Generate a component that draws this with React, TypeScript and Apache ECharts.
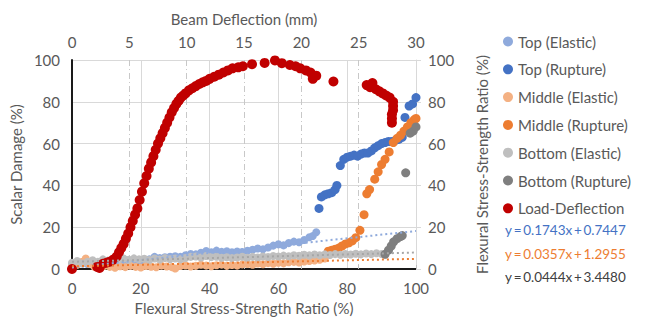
import React, { useEffect, useRef } from "react";
import * as echarts from "echarts";

// ---------- data ----------
const topElastic: number[][] = [
  [0, 2.5], [1.5, 2.2], [3, 2.8], [4.5, 2.4], [6, 3.0], [7.5, 2.6], [9, 3.1], [10.5, 2.9], [12, 3.3], [13.5, 3.0],
  [15, 3.5], [16.5, 3.2], [18, 3.8], [19.5, 3.6], [21, 4.2], [22.5, 4.6], [24, 5.8], [25.5, 5.2], [27, 5.6], [28.5, 5.9],
  [30, 6.1], [31.5, 5.8], [33, 6.6], [34.5, 7.2], [36, 7.0], [37.5, 7.8], [39, 8.6], [40.5, 8.0], [42, 8.8], [43.5, 8.2],
  [45, 8.5], [46.5, 8.0], [48, 8.4], [49.5, 8.1], [51, 8.7], [52.5, 9.2], [54, 9.8], [55.5, 9.4], [57, 10.3], [58.5, 11.2],
  [60, 11.8], [61.5, 11.3], [63, 12.4], [64.5, 13.1], [66, 12.8], [67.5, 13.9], [69, 15.2], [70, 15.8], [71, 17.6],
];
const topRupture: number[][] = [
  [71.8, 29], [72.5, 34.5], [73.5, 35.5], [74.5, 36], [75.5, 36.5], [76.5, 38], [77, 40], [78, 49.5], [79, 52.5], [80, 53.5],
  [81, 54], [82, 54.5], [83, 54], [84, 55], [85, 55.5], [86, 55.5], [87, 56.5], [88, 58], [89, 59], [90, 60],
  [91, 60.5], [92, 61], [93, 61], [94, 61.5], [95, 62], [96, 63], [96.8, 72.5], [98, 78], [99, 79], [100, 82],
];
const middleElastic: number[][] = [
  [0, 1.2], [1.5, 2.0], [3, 3.5], [4, 5.0], [5, 2.5], [6.5, 1.0], [8, 0.8], [9.5, 1.5], [11, 1.0], [12.5, 0.6],
  [14, 1.3], [15.5, 0.9], [17, 1.5], [18.5, 1.0], [20, 0.7], [21.5, 1.4], [23, 1.1], [24.5, 0.8], [26, 1.6], [27.5, 1.2],
  [29, 0.9], [30, 0.2], [31.5, 1.4], [33, 1.7], [34.5, 1.2], [36, 1.5], [37.5, 2.0], [39, 1.6], [40.5, 1.3], [42, 1.8],
  [43.5, 2.1], [45, 1.5], [46.5, 1.9], [48, 1.6], [49.5, 2.2], [51, 2.4], [52.5, 2.0], [54, 2.6], [55.5, 2.3], [57, 2.8],
  [58.5, 2.5], [60, 3.0], [61.5, 2.7], [63, 3.2], [64.5, 3.4], [66, 3.1], [67.5, 3.6], [69, 3.8], [70.5, 4.1], [72, 4.4], [73.5, 5.0],
];
const middleRupture: number[][] = [
  [74.5, 8.5], [75.5, 9], [76.5, 9.5], [77.5, 10], [78.5, 11], [79.5, 12], [80.5, 12.5], [81.5, 13.5], [82.5, 15], [83.7, 18.5],
  [84.9, 26], [85.7, 36], [86.5, 38], [88, 43], [89, 46.5], [90, 50], [91, 52.5], [92.2, 56], [93.4, 60.5], [94.5, 62.5],
  [95.5, 64], [96.5, 66], [97.5, 68], [98.5, 70], [99.5, 71.5], [100, 72],
];
const bottomElastic: number[][] = [
  [0, 3.0], [1.5, 3.8], [3, 2.6], [4.5, 3.5], [6, 4.2], [7.5, 3.4], [9, 4.6], [10.5, 4.0], [12, 4.8], [13.5, 4.3],
  [15, 5.0], [16.5, 4.4], [18, 5.1], [19.5, 4.6], [21, 4.9], [22.5, 4.3], [24, 5.0], [25.5, 4.5], [27, 5.2], [28.5, 4.7],
  [30, 5.0], [31.5, 4.6], [33, 5.3], [34.5, 5.8], [36, 6.0], [37.5, 5.5], [39, 6.2], [40.5, 5.7], [42, 5.9], [43.5, 5.4],
  [45, 5.6], [46.5, 5.2], [48, 5.5], [49.5, 5.9], [51, 5.4], [52.5, 5.8], [54, 5.5], [55.5, 6.0], [57, 5.7], [58.5, 6.2],
  [60, 6.0], [61.5, 6.4], [63, 6.1], [64.5, 6.6], [66, 6.3], [67.5, 6.8], [69, 6.5], [70.5, 6.9], [72, 6.6], [73.5, 7.0],
  [75, 6.7], [76.5, 7.1], [78, 6.8], [79.5, 7.2], [81, 6.9], [82.5, 7.3], [84, 7.0], [85.5, 7.4], [87, 7.1], [88.5, 7.5],
  [90, 7.2], [91, 7.0],
];
const bottomRupture: number[][] = [
  [91, 7], [92, 9], [92.8, 11], [93.5, 13], [94.5, 14.5], [95.5, 15.5], [96, 16], [97, 46], [98.3, 65], [99.2, 66], [100, 68],
];
// Beam deflection (mm) vs flexural stress-strength ratio (%)
const loadDeflection: number[][] = [
  [0, 0], [2.2, 1], [2.4, 0.5], [2.7, 2.5], [3.0, 3], [3.3, 3.5], [3.6, 4.5], [3.9, 6], [4.1, 8], [4.3, 10],
  [4.5, 12], [4.7, 14.5], [4.9, 17], [5.1, 20], [5.3, 23], [5.5, 26], [5.7, 29], [5.9, 33], [6.1, 37], [6.3, 41],
  [6.5, 44.5], [6.7, 48], [6.9, 51], [7.1, 54], [7.3, 57], [7.5, 60], [7.7, 62.5], [7.9, 65], [8.1, 67.5], [8.3, 70],
  [8.5, 72.5], [8.7, 75], [8.9, 77], [9.1, 79], [9.3, 80.5], [9.5, 82], [9.7, 83], [9.9, 84], [10.2, 85.5], [10.5, 86.5],
  [10.8, 87.5], [11.1, 88.5], [11.4, 89.3], [11.7, 90], [12.0, 91], [12.4, 92], [12.8, 93], [13.2, 94], [13.6, 95], [14.0, 96],
  [14.5, 96.5], [14.9, 97], [15.7, 98], [16.8, 98.6], [17.7, 99.8], [18.3, 98.5], [19.0, 97.6], [19.5, 97], [19.9, 96], [20.4, 95],
  [20.8, 94], [21.0, 91], [21.3, 92.5], [22.8, 89.7], [25.7, 88], [26.0, 87], [26.2, 89], [26.5, 86], [26.8, 85], [27.1, 84],
  [27.4, 83], [27.7, 82], [28.0, 80], [28.0, 78], [28.0, 76], [27.9, 74], [27.9, 72], [27.9, 70],
];
// Linear trendlines (endpoints at x = 0 and x = 100)
const trendTop: number[][] = [[0, 0.7447], [100, 18.1747]];
const trendMiddle: number[][] = [[0, 1.2955], [100, 4.8655]];
const trendBottom: number[][] = [[0, 3.448], [100, 7.888]];
const equations: string[] = [
  "y\u2009=\u20090.1743x\u2009+\u20090.7447",
  "y\u2009=\u20090.0357x\u2009+\u20091.2955",
  "y\u2009=\u20090.0444x\u2009+\u20093.4480",
];

const xTicksBottom = { min: 0, max: 100, interval: 20 };
const xTicksTop = { min: 0, max: 30, interval: 5 };
const yTicks = { min: 0, max: 100, interval: 20 };

const FONT = "Lato";
const TXT = "#595959";
const GRID = "#d9d9d9";
const FS = 15;

export default function App() {
  const ref = useRef<HTMLDivElement>(null);
  useEffect(() => {
    document.body.style.margin = "0";
    if (!ref.current) return;
    const chart = echarts.init(ref.current, undefined, { renderer: "svg" });
    const scatter = (name: string, data: number[][], color: string, size: number, xi = 0, yi = 0) => ({
      name, type: "scatter", data, xAxisIndex: xi, yAxisIndex: yi,
      symbol: "circle", symbolSize: size, itemStyle: { color, opacity: 1 },
    });
    const trend = (data: number[][], color: string) => ({
      type: "line", data, symbol: "none", xAxisIndex: 0, yAxisIndex: 0, z: 5,
      lineStyle: { color, width: 2, type: [2, 3] }, silent: true,
    });
    chart.setOption({
      animation: false,
      textStyle: { fontFamily: FONT },
      grid: { left: 72, right: 232, top: 60, bottom: 50, containLabel: false },
      legend: {
        orient: "vertical", left: 503, top: 34, padding: 0, itemGap: 12.8,
        itemWidth: 10, itemHeight: 10, icon: "circle",
        textStyle: { color: TXT, fontSize: FS, lineHeight: 15, fontFamily: FONT },
        data: ["Top (Elastic)", "Top (Rupture)", "Middle (Elastic)", "Middle (Rupture)", "Bottom (Elastic)", "Bottom (Rupture)", "Load-Deflection"],
      },
      xAxis: [
        {
          type: "value", position: "bottom", ...xTicksBottom,
          name: "Flexural Stress-Strength Ratio (%)", nameLocation: "middle", nameGap: 31,
          nameTextStyle: { color: TXT, fontSize: FS, fontFamily: FONT },
          axisLine: { show: true, onZero: false, lineStyle: { color: "#1a1a1a", width: 2 } },
          axisTick: { show: false },
          axisLabel: { color: TXT, fontSize: FS, margin: 11, fontFamily: FONT },
          splitLine: { show: true, lineStyle: { color: GRID, width: 1 } },
        },
        {
          type: "value", position: "top", ...xTicksTop,
          name: "Beam Deflection (mm)", nameLocation: "middle", nameGap: 34,
          nameTextStyle: { color: TXT, fontSize: FS, fontFamily: FONT },
          axisLine: { show: false },
          axisTick: { show: true, length: 4, lineStyle: { color: "#bfbfbf" } },
          axisLabel: { color: TXT, fontSize: FS, margin: 11, fontFamily: FONT },
          splitLine: { show: true, lineStyle: { color: "#c8c8c8", width: 1, type: [6, 3, 1, 3] } },
        },
      ],
      yAxis: [
        {
          type: "value", position: "left", ...yTicks,
          name: "Scalar Damage (%)", nameLocation: "middle", nameGap: 33,
          nameTextStyle: { color: TXT, fontSize: FS, fontFamily: FONT },
          axisLine: { show: true, onZero: false, lineStyle: { color: "#1a1a1a", width: 2 } },
          axisTick: { show: false },
          axisLabel: { color: TXT, fontSize: FS, margin: 12, fontFamily: FONT },
          splitLine: { show: true, lineStyle: { color: GRID, width: 1 } },
        },
        {
          type: "value", position: "right", ...yTicks,
          name: "Flexural Stress-Strength Ratio (%)", nameLocation: "middle", nameGap: 58, nameRotate: 90,
          nameTextStyle: { color: TXT, fontSize: FS, fontFamily: FONT },
          axisLine: { show: true, onZero: false, lineStyle: { color: GRID, width: 1 } },
          axisTick: { show: true, length: 5, lineStyle: { color: GRID } },
          axisLabel: { color: TXT, fontSize: FS, margin: 12, fontFamily: FONT },
          splitLine: { show: false },
        },
      ],
      series: [
        scatter("Top (Elastic)", topElastic, "#8faadc", 8),
        scatter("Top (Rupture)", topRupture, "#4472c4", 9),
        scatter("Middle (Elastic)", middleElastic, "#f4b183", 8),
        scatter("Middle (Rupture)", middleRupture, "#ed7d31", 9),
        scatter("Bottom (Elastic)", bottomElastic, "#bfbfbf", 8),
        scatter("Bottom (Rupture)", bottomRupture, "#7f7f7f", 9),
        scatter("Load-Deflection", loadDeflection, "#c00000", 10, 1, 1),
        trend(trendTop, "#8faadc"),
        trend(trendMiddle, "#ed7d31"),
        trend(trendBottom, "#a6a6a6"),
      ],
      graphic: [
        { type: "text", left: 505, top: 223, style: { text: equations[0], fill: "#4472c4", fontSize: 13.5, fontFamily: FONT } },
        { type: "text", left: 505, top: 247, style: { text: equations[1], fill: "#ed7d31", fontSize: 13.5, fontFamily: FONT } },
        { type: "text", left: 505, top: 270, style: { text: equations[2], fill: "#404040", fontSize: 13.5, fontFamily: FONT } },
      ],
    });
    return () => chart.dispose();
  }, []);
  return <div ref={ref} style={{ width: 648, height: 320 }} />;
}
